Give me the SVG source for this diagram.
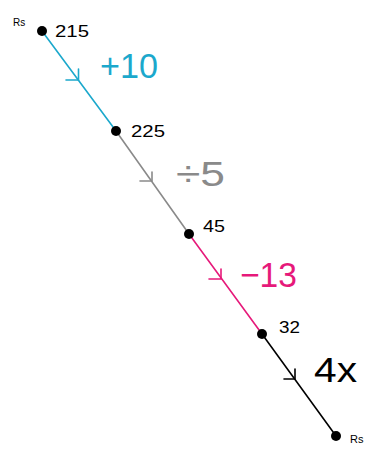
<svg xmlns="http://www.w3.org/2000/svg" width="365" height="451" viewBox="0 0 365 451">
<style>
.seg{fill:none;stroke-width:1.6;stroke-linecap:round}
.chev{fill:none;stroke-width:1.6;stroke-linecap:round;stroke-linejoin:miter}
.num{font-family:"Liberation Sans",Arial,sans-serif;font-size:17px;fill:#000}
.op{font-family:"Liberation Sans",Arial,sans-serif;font-size:35px}
.dot{fill:#000}
</style>
<rect width="365" height="451" fill="#fff"/>
<g id="connectors">
<line class="seg" x1="42" y1="31" x2="116" y2="131" stroke="#1ba8cc"/>
<path class="chev" d="M66,80 L78.5,80 L78.5,69" stroke="#1ba8cc"/>
<line class="seg" x1="116" y1="131" x2="189" y2="234" stroke="#8a8a8a"/>
<path class="chev" d="M140,181 L152,181 L152,172" stroke="#8a8a8a"/>
<line class="seg" x1="189" y1="234" x2="262" y2="334" stroke="#e6197a"/>
<path class="chev" d="M209,279 L221,279 L221,269" stroke="#e6197a"/>
<line class="seg" x1="262" y1="334" x2="336" y2="436" stroke="#000"/>
<path class="chev" d="M284,379 L295,379 L295,369" stroke="#000"/>
</g>
<g id="n215">
<circle class="dot" cx="42" cy="31" r="5"/>
<text x="13" y="26" font-family="Liberation Sans,Arial,sans-serif" font-size="10">Rs</text>
<text class="num" x="55" y="37" textLength="34" lengthAdjust="spacingAndGlyphs">215</text>
</g>
<g id="n225">
<circle class="dot" cx="116" cy="131" r="5"/>
<text class="num" x="131" y="137" textLength="34" lengthAdjust="spacingAndGlyphs">225</text>
</g>
<g id="n45">
<circle class="dot" cx="189" cy="234" r="5"/>
<text class="num" x="203" y="232" textLength="22" lengthAdjust="spacingAndGlyphs">45</text>
</g>
<g id="n32">
<circle class="dot" cx="262" cy="334" r="5"/>
<text class="num" x="279" y="333" textLength="21" lengthAdjust="spacingAndGlyphs">32</text>
</g>
<g id="nend">
<circle class="dot" cx="336" cy="436" r="5"/>
<text x="350" y="443" font-family="Liberation Sans,Arial,sans-serif" font-size="11">Rs</text>
</g>
<g id="labels">
<text class="op" x="100" y="78" fill="#1ba8cc" textLength="58" lengthAdjust="spacingAndGlyphs">+10</text>
<text class="op" x="176" y="186" fill="#8a8a8a" textLength="49" lengthAdjust="spacingAndGlyphs">÷5</text>
<text class="op" x="240" y="287" fill="#e6197a" textLength="57" lengthAdjust="spacingAndGlyphs">−13</text>
<text class="op" x="314" y="382" fill="#000" textLength="43" lengthAdjust="spacingAndGlyphs">4x</text>
</g>
</svg>
